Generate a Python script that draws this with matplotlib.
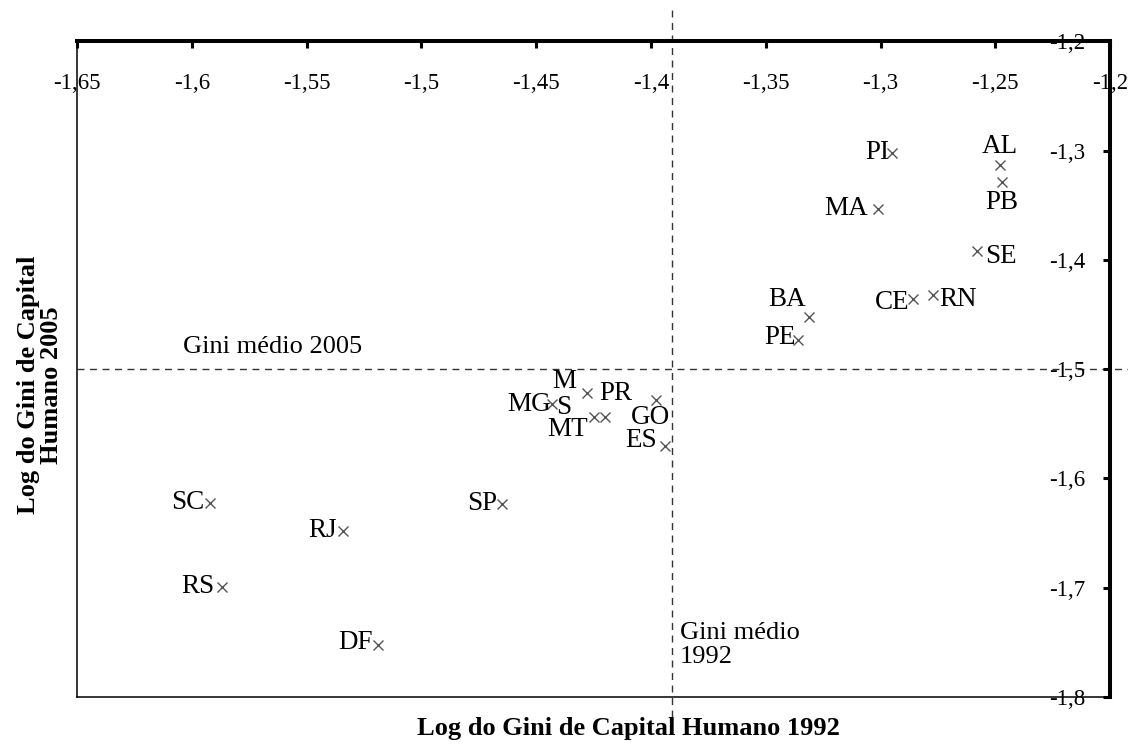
import matplotlib.pyplot as plt
from matplotlib.ticker import FuncFormatter

plt.rcParams['font.family'] = ['Liberation Serif', 'DejaVu Serif']

# Log of human capital Gini by state, 1992 (x) and 2005 (y)
states = ['PI', 'AL', 'PB', 'MA', 'SE', 'CE', 'RN', 'BA', 'PE',
          'PR', 'MG', 'MS', 'MT', 'GO', 'ES',
          'SC', 'SP', 'RJ', 'RS', 'DF']
gini_1992 = [-1.295, -1.248, -1.247, -1.301, -1.258, -1.286, -1.277, -1.331, -1.336,
             -1.428, -1.443, -1.420, -1.425, -1.398, -1.394,
             -1.592, -1.465, -1.534, -1.587, -1.519]
gini_2005 = [-1.302, -1.313, -1.329, -1.353, -1.392, -1.436, -1.432, -1.452, -1.473,
             -1.522, -1.532, -1.544, -1.544, -1.528, -1.570,
             -1.622, -1.623, -1.648, -1.699, -1.752]
mean_1992 = -1.391
mean_2005 = -1.5

x_ticks = [-1.65, -1.6, -1.55, -1.5, -1.45, -1.4, -1.35, -1.3, -1.25, -1.2]
y_ticks = [-1.8, -1.7, -1.6, -1.5, -1.4, -1.3, -1.2]

# label placement around each marker: (dx px, dy px, ha)
label_pos = {
    'PI': (-3, 0, 'right'), 'AL': (0, 18, 'center'), 'PB': (0, -20, 'center'),
    'MA': (-10, 0, 'right'), 'SE': (8, -5, 'left'), 'CE': (-3, -3, 'right'),
    'RN': (6, -5, 'left'), 'BA': (-3, 17, 'right'), 'PE': (-2, 2, 'right'),
    'PR': (13, 0, 'left'), 'MG': (-1, 0, 'right'), 'MS': (-41, 23, 'center'),
    'MT': (-6, -12, 'right'), 'GO': (-5, -18, 'center'), 'ES': (-8, 5, 'right'),
    'SC': (-6, 0, 'right'), 'SP': (-4, 0, 'right'), 'RJ': (-6, 0, 'right'),
    'RS': (-7, 0, 'right'), 'DF': (-5, 2, 'right'),
}


def comma(v, pos=None):
    return ('%g' % round(v, 2)).replace('.', ',')


fig = plt.figure(figsize=(11.28, 7.46), dpi=100)
ax = fig.add_axes([0.0683, 0.0657, 0.9158, 0.8787])

ax.plot(gini_1992, gini_2005, ls='none', marker='x', ms=7.5, mew=1,
        color='#555555', zorder=3)

for name, x, y in zip(states, gini_1992, gini_2005):
    dx, dy, ha = label_pos[name]
    text = 'M\nS' if name == 'MS' else name
    ax.annotate(text, (x, y), xytext=(dx, dy), textcoords='offset pixels',
                ha=ha, va='center', fontsize=19.5, linespacing=1.05,
                annotation_clip=False)

# mean lines, running past the frame
ax.axvline(mean_1992, ymin=-0.03, ymax=1.055, color='#333333', lw=1,
           ls=(0, (5, 4)), clip_on=False, zorder=1)
ax.axhline(mean_2005, xmin=0, xmax=1.02, color='#333333', lw=1,
           ls=(0, (5, 4)), clip_on=False, zorder=1)
ax.text(-1.604, mean_2005 + 0.02, 'Gini médio 2005', fontsize=19,
        ha='left', va='center')
ax.text(-1.3873, -1.7525, 'Gini médio\n1992', fontsize=19,
        ha='left', va='center', linespacing=1.15)

ax.set_xlim(-1.65, -1.2)
ax.set_ylim(-1.8, -1.2)
ax.set_xticks(x_ticks)
ax.set_yticks(y_ticks)
ax.xaxis.set_major_formatter(FuncFormatter(comma))
ax.yaxis.set_major_formatter(FuncFormatter(comma))

ax.tick_params(axis='x', top=True, bottom=False, labeltop=True,
               labelbottom=False, direction='in', length=5, width=2.2,
               pad=-23, labelsize=16.5)
ax.tick_params(axis='y', right=True, left=False, labelright=True,
               labelleft=False, direction='in', length=5, width=2.2,
               pad=-18, labelsize=16.5)
plt.setp(ax.get_xticklabels(), va='top')
plt.setp(ax.get_yticklabels(), ha='right')

for side in ['top', 'right']:
    ax.spines[side].set_linewidth(2.9)
for side in ['left', 'bottom']:
    ax.spines[side].set_linewidth(1.1)

fig.text(628 / 1128, 1 - 729 / 746, 'Log do Gini de Capital Humano 1992',
         fontsize=19, fontweight='bold', ha='center', va='center')
fig.text(40 / 1128, 1 - 385 / 746, 'Log do Gini de Capital\nHumano 2005',
         fontsize=19, fontweight='bold', rotation=90, ha='center',
         va='center', linespacing=1.05)

plt.savefig('out.png', dpi=100)
